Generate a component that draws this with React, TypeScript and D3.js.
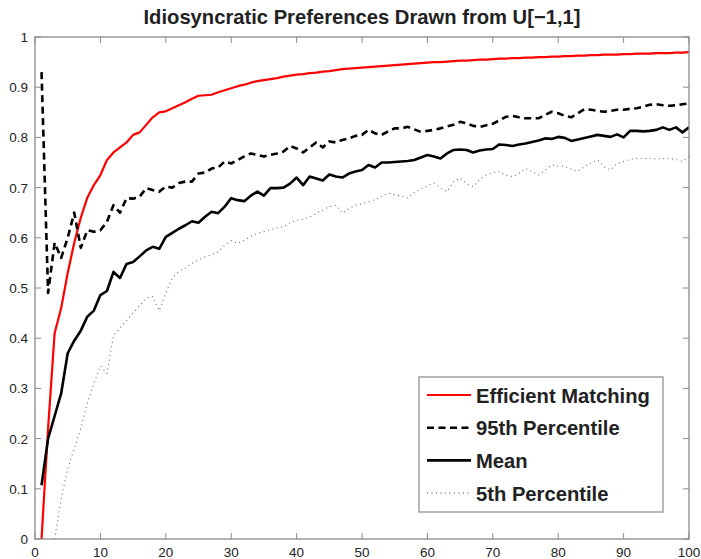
import React from 'react';
import * as d3 from 'd3';

const title = 'Idiosyncratic Preferences Drawn from U[\u22121,1]';
const xTicks = [0, 10, 20, 30, 40, 50, 60, 70, 80, 90, 100];
const yTicks = [0, 0.1, 0.2, 0.3, 0.4, 0.5, 0.6, 0.7, 0.8, 0.9, 1];

// values for n = 1..100
const efficient = [
  0.0, 0.22, 0.41, 0.46, 0.53, 0.59, 0.64, 0.68, 0.705, 0.725,
  0.755, 0.77, 0.78, 0.79, 0.805, 0.81, 0.825, 0.84, 0.85, 0.852,
  0.858, 0.864, 0.87, 0.877, 0.883, 0.884, 0.885, 0.89, 0.894, 0.898,
  0.902, 0.905, 0.909, 0.912, 0.914, 0.916, 0.918, 0.921, 0.923, 0.925,
  0.926, 0.928, 0.929, 0.931, 0.932, 0.934, 0.936, 0.937, 0.938, 0.939,
  0.94, 0.941, 0.942, 0.943, 0.944, 0.945, 0.946, 0.947, 0.948, 0.949,
  0.95, 0.95, 0.951, 0.952, 0.953, 0.953, 0.954, 0.955, 0.955, 0.956,
  0.957, 0.957, 0.958, 0.958, 0.959, 0.959, 0.96, 0.96, 0.961, 0.961,
  0.962, 0.962, 0.963, 0.963, 0.964, 0.964, 0.965, 0.965, 0.965, 0.966,
  0.966, 0.967, 0.967, 0.967, 0.968, 0.968, 0.968, 0.969, 0.969, 0.97,
];

const p95 = [
  0.93, 0.49, 0.59, 0.56, 0.6, 0.65, 0.58, 0.615, 0.612, 0.615,
  0.632, 0.665, 0.65, 0.679, 0.678, 0.682, 0.699, 0.695, 0.692, 0.702,
  0.7, 0.709, 0.712, 0.712, 0.728, 0.73, 0.738, 0.74, 0.752, 0.748,
  0.755, 0.762, 0.768, 0.765, 0.762, 0.765, 0.768, 0.772, 0.783, 0.778,
  0.77, 0.78, 0.79, 0.78, 0.792, 0.79, 0.795, 0.798, 0.803, 0.805,
  0.815, 0.808, 0.805, 0.812, 0.818, 0.818, 0.821, 0.816, 0.811, 0.813,
  0.815, 0.818, 0.822, 0.825, 0.831, 0.828, 0.823, 0.821, 0.824, 0.827,
  0.834, 0.841, 0.843, 0.84, 0.838, 0.838, 0.838, 0.845, 0.851, 0.848,
  0.843, 0.84, 0.848, 0.856, 0.855, 0.853, 0.851, 0.853, 0.855, 0.855,
  0.857, 0.858, 0.861, 0.865, 0.866, 0.864, 0.863, 0.864, 0.866, 0.868,
];

const mean = [
  0.107, 0.2, 0.245, 0.29, 0.37, 0.395, 0.415, 0.443, 0.455, 0.486,
  0.494, 0.532, 0.52, 0.548, 0.552, 0.563, 0.575, 0.582, 0.578, 0.602,
  0.61, 0.618, 0.625, 0.633, 0.63, 0.642, 0.652, 0.649, 0.662, 0.679,
  0.675, 0.673, 0.684, 0.692, 0.684, 0.699, 0.699, 0.7, 0.708, 0.72,
  0.705, 0.722, 0.718, 0.714, 0.726, 0.722, 0.72, 0.728, 0.732, 0.735,
  0.745, 0.74, 0.75, 0.75, 0.751, 0.752, 0.753, 0.755, 0.76, 0.765,
  0.762, 0.758, 0.768, 0.775, 0.776, 0.775, 0.77, 0.774, 0.776, 0.777,
  0.786, 0.785, 0.783, 0.786, 0.788, 0.791, 0.794, 0.798, 0.797, 0.801,
  0.799, 0.793, 0.796, 0.799, 0.802, 0.805, 0.803, 0.801, 0.806, 0.8,
  0.813, 0.813, 0.812, 0.813, 0.815, 0.82, 0.815, 0.82, 0.81, 0.82,
];

// values for n = 3..100
const p5 = [
  0.0, 0.08, 0.14, 0.18, 0.22, 0.27, 0.31, 0.345,
  0.33, 0.405, 0.42, 0.435, 0.45, 0.465, 0.48, 0.483, 0.455, 0.49,
  0.52, 0.533, 0.54, 0.549, 0.556, 0.562, 0.566, 0.572, 0.585, 0.594,
  0.589, 0.595, 0.603, 0.609, 0.612, 0.616, 0.62, 0.622, 0.63, 0.635,
  0.637, 0.641, 0.649, 0.655, 0.662, 0.665, 0.649, 0.658, 0.665, 0.668,
  0.672, 0.676, 0.682, 0.689, 0.686, 0.683, 0.679, 0.69, 0.697, 0.703,
  0.709, 0.7, 0.692, 0.712, 0.719, 0.708, 0.702, 0.716, 0.725, 0.73,
  0.732, 0.725, 0.722, 0.728, 0.738, 0.732, 0.725, 0.735, 0.745, 0.743,
  0.742, 0.737, 0.732, 0.742, 0.748, 0.755, 0.742, 0.735, 0.748, 0.752,
  0.756, 0.758, 0.758, 0.758, 0.757, 0.758, 0.758, 0.756, 0.752, 0.762,
];

const legendLabels = ['Efficient Matching', '95th Percentile', 'Mean', '5th Percentile'];

const W = 701;
const H = 559;
const margin = { top: 37, right: 12, bottom: 20, left: 35 };
const font = '"Liberation Sans", Arial, Helvetica, sans-serif';

const App = () => {
  const x = d3.scaleLinear().domain([0, 100]).range([margin.left, W - margin.right]);
  const y = d3.scaleLinear().domain([0, 1]).range([H - margin.bottom, margin.top]);

  const line = d3.line<[number, number]>()
    .x(d => x(d[0]))
    .y(d => y(d[1]));

  const pts = (vals: number[], start: number) =>
    vals.map((v, i) => [start + i, v] as [number, number]);

  const series = [
    { data: pts(efficient, 1), stroke: '#ff0000', width: 2.2, dash: null },
    { data: pts(p95, 1), stroke: '#000', width: 2.6, dash: '7,4.5' },
    { data: pts(mean, 1), stroke: '#000', width: 2.6, dash: null },
    { data: pts(p5, 3), stroke: '#666', width: 1.1, dash: '1,3.5' },
  ];

  const [x0, x1] = x.range();
  const [y0, y1] = y.range();
  const axisColor = '#8a8a8a';

  const lg = { x: 419, y: 377, w: 244, h: 135 };

  return (
    <svg width={W} height={H} style={{ position: 'absolute', left: 0, top: 0 }} fontFamily={font}>
      <rect x={0} y={0} width={W} height={H} fill="#fff" />
      <defs>
        <clipPath id="plot">
          <rect x={x0} y={y1} width={x1 - x0} height={y0 - y1} />
        </clipPath>
      </defs>

      <text x={362} y={24} textAnchor="middle" fontSize={20.2} fontWeight="bold" fill="#222">
        {title}
      </text>

      <g clipPath="url(#plot)">
        {series.map((s, i) => (
          <path key={i} d={line(s.data) || ''} fill="none" stroke={s.stroke}
            strokeWidth={s.width} strokeDasharray={s.dash || undefined}
            strokeLinejoin="round" />
        ))}
      </g>

      <rect x={x0} y={y1} width={x1 - x0} height={y0 - y1} fill="none" stroke={axisColor} strokeWidth={1.3} />

      {xTicks.map(t => (
        <g key={'x' + t}>
          <line x1={x(t)} x2={x(t)} y1={y0} y2={y0 - 6} stroke={axisColor} />
          <line x1={x(t)} x2={x(t)} y1={y1} y2={y1 + 6} stroke={axisColor} />
          <text x={x(t)} y={y0 + 18} textAnchor="middle" fontSize={13.5} fill="#222">{t}</text>
        </g>
      ))}
      {yTicks.map(t => (
        <g key={'y' + t}>
          <line x1={x0} x2={x0 + 6} y1={y(t)} y2={y(t)} stroke={axisColor} />
          <line x1={x1} x2={x1 - 6} y1={y(t)} y2={y(t)} stroke={axisColor} />
          <text x={x0 - 7} y={y(t) + 5} textAnchor="end" fontSize={13.5} fill="#222">{t}</text>
        </g>
      ))}

      <g>
        <rect x={lg.x} y={lg.y} width={lg.w} height={lg.h} fill="#fff" stroke={axisColor} strokeWidth={1.2} />
        {series.map((s, i) => {
          const cy = 395 + i * 32.7;
          return (
            <g key={'lg' + i}>
              <line x1={427} x2={471} y1={cy} y2={cy} stroke={s.stroke}
                strokeWidth={s.width} strokeDasharray={s.dash || undefined} />
              <text x={476} y={cy + 7.5} fontSize={20.2} fontWeight="bold" fill="#222">
                {legendLabels[i]}
              </text>
            </g>
          );
        })}
      </g>
    </svg>
  );
};

export default App;
